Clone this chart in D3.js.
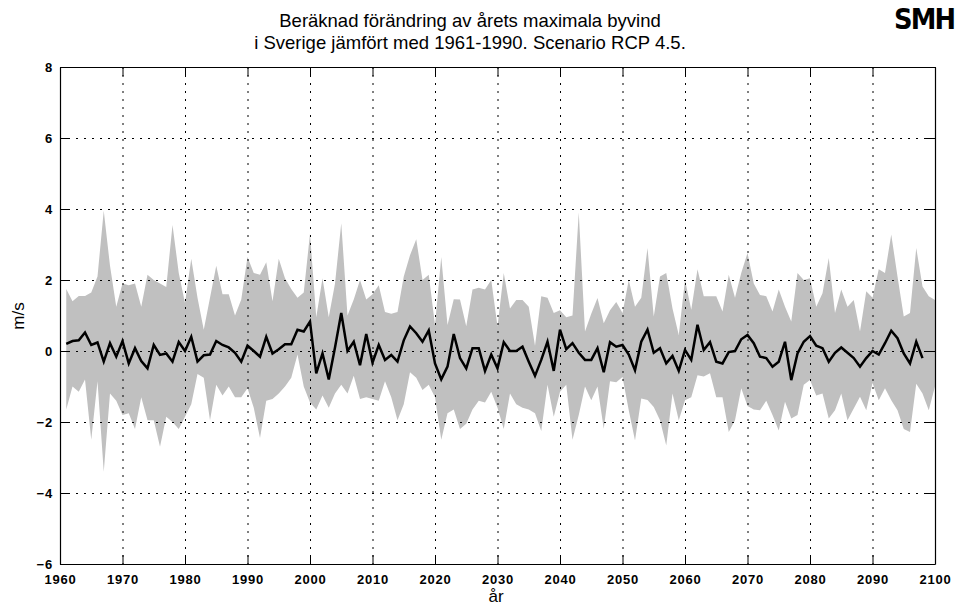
<!DOCTYPE html>
<html>
<head>
<meta charset="utf-8">
<script src="https://cdn.jsdelivr.net/npm/d3@7"></script>
<style>
  body { margin: 0; background: #fff; }
  svg { display: block; }
  text { font-family: "Liberation Sans", Arial, sans-serif; }
</style>
</head>
<body>
<div id="chart"></div>
<script>
// first year of the series, one value per year
const firstYear = 1961;

const xTicks = [1960, 1970, 1980, 1990, 2000, 2010, 2020, 2030, 2040, 2050, 2060, 2070, 2080, 2090, 2100];
const yTicks = [-6, -4, -2, 0, 2, 4, 6, 8];

// upper edge of grey band (1961-2100)
const upper = [
  1.75, 1.4, 1.55, 1.55, 1.65, 2.1, 3.95, 2.4, 1.25, 1.9,
  1.85, 1.9, 1.25, 2.15, 2.0, 1.9, 1.8, 3.55, 2.2, 1.35,
  2.6, 1.5, 0.6, 1.5, 2.4, 1.6, 1.6, 1.0, 1.45, 2.65,
  2.2, 2.15, 2.5, 1.4, 2.6, 2.05, 1.75, 1.5, 1.65, 3.3,
  0.95, 2.05, 0.95, 1.9, 3.6, 1.0, 1.45, 2.0, 1.45, 1.6,
  1.85, 1.1, 1.05, 1.1, 2.1, 2.7, 3.15, 2.0, 2.15, 0.73,
  2.65, 0.73, 1.46, 1.45, 0.7, 1.73, 1.78, 1.73, 2.0, 0.69,
  2.2, 1.2, 1.44, 1.44, 1.25, 0.15, 1.54, 1.5, 1.07, 1.15,
  0.95, 1.0, 3.9, 0.55, 1.05, 1.49, 0.78, 1.15, 1.38, 1.07,
  2.0, 1.25, 1.5, 2.9, 0.97, 2.1, 2.2, 1.2, 0.45, 2.0,
  1.16, 2.3, 1.54, 1.54, 1.54, 1.11, 2.15, 1.5, 2.2, 2.76,
  1.9, 1.58, 1.54, 1.11, 1.73, 1.25, 0.83, 2.2, 2.0, 2.05,
  1.25, 1.63, 2.62, 1.07, 1.73, 1.25, 1.44, 0.55, 1.68, 1.5,
  2.3, 2.2, 3.28, 2.1, 0.97, 1.07, 2.9, 1.82, 1.54, 1.44
];

// lower edge of grey band (1961-2100)
const lower = [
  -1.65, -1.0, -1.15, -0.8, -2.5, -0.85, -3.4, -1.2, -1.4, -1.8,
  -1.75, -2.2, -1.3, -1.95, -1.95, -2.7, -1.85, -2.0, -2.2, -1.85,
  -1.5, -0.65, -0.75, -1.95, -0.95, -1.25, -1.0, -1.3, -1.3, -1.05,
  -1.6, -2.45, -1.4, -1.35, -1.2, -1.0, -0.75, -0.1, -1.0, -1.45,
  -1.65, -1.25, -1.6, -1.2, -0.95, -1.2, -0.7, -1.35, -1.3, -1.35,
  -1.4, -0.85, -1.3, -1.95, -1.5, -0.6, -0.75, -1.1, -0.95, -1.3,
  -2.5, -1.75, -1.65, -2.2, -2.05, -1.65, -1.4, -1.45, -1.15, -1.6,
  -2.2, -1.2, -1.5, -1.6, -1.65, -1.75, -2.25, -0.95, -1.85, -1.15,
  -0.95, -2.5, -1.8, -1.0, -1.39, -1.0, -2.19, -0.85, -0.88, -0.73,
  -1.67, -2.52, -1.34, -1.38, -1.58, -1.95, -2.66, -1.2, -1.95, -1.39,
  -1.3, -0.68, -0.72, -0.63, -1.3, -1.3, -2.28, -1.95, -1.05, -1.55,
  -1.65, -1.67, -1.4, -1.8, -2.24, -1.43, -1.9, -1.8, -0.95, -0.82,
  -1.25, -1.2, -1.9, -1.67, -1.2, -1.95, -1.62, -1.29, -1.67, -0.9,
  -1.39, -1.05, -1.39, -1.67, -2.2, -2.28, -0.92, -1.2, -1.67, -1.0
];

// black line (1961-2098)
const mean = [
  0.2, 0.28, 0.3, 0.52, 0.17, 0.24, -0.3, 0.22, -0.16, 0.28,
  -0.35, 0.08, -0.28, -0.49, 0.17, -0.11, -0.07, -0.3, 0.25, 0.0,
  0.4, -0.3, -0.12, -0.1, 0.28, 0.17, 0.1, -0.05, -0.3, 0.15,
  0.0, -0.16, 0.4, -0.07, 0.05, 0.19, 0.19, 0.6, 0.55, 0.83,
  -0.63, -0.07, -0.8, 0.1, 1.07, 0.0, 0.26, -0.4, 0.48, -0.33,
  0.17, -0.25, -0.11, -0.3, 0.3, 0.69, 0.5, 0.26, 0.58, -0.35,
  -0.8, -0.44, 0.48, -0.2, -0.49, 0.08, 0.08, -0.56, -0.1, -0.49,
  0.25, 0.0, 0.0, 0.12, -0.3, -0.7, -0.25, 0.26, -0.56, 0.6,
  0.05, 0.22, -0.05, -0.25, -0.25, 0.08, -0.6, 0.25, 0.12, 0.17,
  -0.1, -0.54, 0.26, 0.6, -0.05, 0.08, -0.35, -0.14, -0.56, 0.03,
  -0.25, 0.74, 0.03, 0.25, -0.3, -0.35, -0.03, 0.0, 0.33, 0.45,
  0.22, -0.16, -0.2, -0.44, -0.3, 0.26, -0.82, -0.07, 0.26, 0.42,
  0.15, 0.08, -0.3, -0.05, 0.1, -0.05, -0.2, -0.44, -0.2, 0.0,
  -0.1, 0.22, 0.57, 0.36, -0.07, -0.35, 0.26, -0.2
];

const width = 956, height = 608;
const plotLeft = 60, plotRight = 935, plotTop = 67, plotBottom = 564;

const svg = d3.select('#chart')
  .append('svg')
  .attr('width', width)
  .attr('height', height);

const x = d3.scaleLinear().domain([1960, 2100]).range([plotLeft, plotRight]);
const y = d3.scaleLinear().domain([-6, 8]).range([plotBottom, plotTop]);

// grey band
const band = upper.map((u, i) => ({ year: firstYear + i, hi: u, lo: lower[i] }));
svg.append('path')
  .datum(band)
  .attr('fill', '#c0c0c0')
  .attr('d', d3.area()
    .x(d => x(d.year))
    .y0(d => y(d.lo))
    .y1(d => y(d.hi)));

// dotted grid on top of the band
const grid = svg.append('g')
  .attr('stroke', '#000')
  .attr('stroke-width', 1)
  .attr('stroke-dasharray', '2,6');

grid.selectAll('.vg')
  .data(xTicks)
  .enter()
  .append('line')
  .attr('x1', d => x(d) + 0.5)
  .attr('x2', d => x(d) + 0.5)
  .attr('y1', plotTop)
  .attr('y2', plotBottom);

grid.selectAll('.hg')
  .data(yTicks)
  .enter()
  .append('line')
  .attr('x1', plotLeft)
  .attr('x2', plotRight)
  .attr('y1', d => y(d) + 0.5)
  .attr('y2', d => y(d) + 0.5);

// mean line
svg.append('path')
  .datum(mean)
  .attr('fill', 'none')
  .attr('stroke', '#000')
  .attr('stroke-width', 2.5)
  .attr('d', d3.line()
    .x((d, i) => x(firstYear + i))
    .y(d => y(d)));

// axes, ticks pointing inwards
svg.append('g')
  .attr('transform', `translate(0,${plotBottom})`)
  .call(d3.axisBottom(x).tickValues(xTicks).tickFormat(d3.format('d'))
    .tickSize(-9).tickSizeOuter(0).tickPadding(11));

svg.append('g')
  .attr('transform', `translate(0,${plotTop})`)
  .call(d3.axisTop(x).tickValues(xTicks).tickFormat('')
    .tickSize(-9).tickSizeOuter(0));

svg.append('g')
  .attr('transform', `translate(${plotLeft},0)`)
  .call(d3.axisLeft(y).tickValues(yTicks)
    .tickSize(-9).tickSizeOuter(0).tickPadding(7));

svg.append('g')
  .attr('transform', `translate(${plotRight},0)`)
  .call(d3.axisRight(y).tickValues(yTicks).tickFormat('')
    .tickSize(-9).tickSizeOuter(0));

svg.selectAll('.domain').attr('stroke', '#000').attr('stroke-width', 1.2);
svg.selectAll('.tick line').attr('stroke', '#000');
svg.selectAll('.tick text')
  .attr('fill', '#000')
  .style('font-family', '"Liberation Sans", Arial, sans-serif')
  .style('font-size', '13px')
  .style('font-weight', 'bold')
  .style('letter-spacing', '0.8px');

// titles and labels
svg.append('text')
  .attr('x', 470).attr('y', 27)
  .attr('text-anchor', 'middle')
  .style('font-size', '18.5px')
  .text('Beräknad förändring av årets maximala byvind');

svg.append('text')
  .attr('x', 470).attr('y', 49)
  .attr('text-anchor', 'middle')
  .style('font-size', '18.5px')
  .text('i Sverige jämfört med 1961-1990. Scenario RCP 4.5.');

svg.append('text')
  .attr('transform', 'translate(24,316) rotate(-90)')
  .attr('text-anchor', 'middle')
  .style('font-size', '17px')
  .text('m/s');

svg.append('text')
  .attr('x', 496).attr('y', 602)
  .attr('text-anchor', 'middle')
  .style('font-size', '17px')
  .text('år');

// logo (narrow and heavy, reaching the right edge like the original)
svg.append('text')
  .attr('transform', 'translate(894,29) scale(0.92,1)')
  .style('font-family', '"DejaVu Sans", sans-serif')
  .style('font-weight', 'bold')
  .style('font-size', '28px')
  .style('letter-spacing', '-2px')
  .text('SMH');
</script>
</body>
</html>
